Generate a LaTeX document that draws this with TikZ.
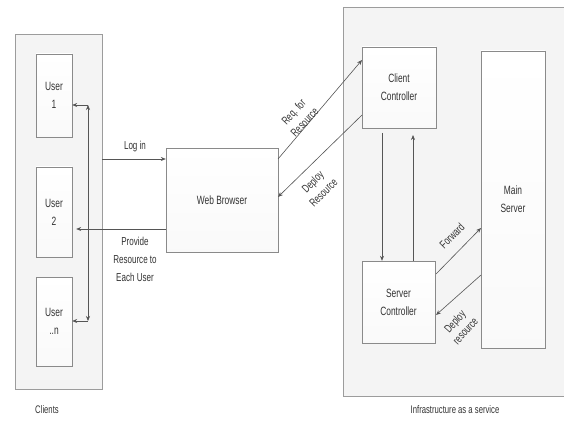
\documentclass[tikz,border=0pt]{standalone}
\usepackage{fontspec}
\setmainfont{Liberation Sans}[FakeStretch=0.7]
\usepackage{tikz}
\usetikzlibrary{arrows.meta,positioning,calc,shadows}
\tikzset{%
  boxnode/.style={rectangle,draw=iaborder,top color=white,bottom color=iafill!80!black!8,
    drop shadow={opacity=0.25,shadow xshift=1pt,shadow yshift=-1pt},
    align=center,text=iatext,inner sep=0pt},
  groupnode/.style={rectangle,draw=iagroup,fill=iabg,inner sep=0pt,
    drop shadow={opacity=0.2,shadow xshift=1pt,shadow yshift=-1pt}},
  arr/.style={draw=iaarrow,line width=0.6pt,-{Stealth[length=5pt,width=4pt]}},
  biarr/.style={draw=iaarrow,line width=0.6pt,{Stealth[length=5pt,width=4pt]}-{Stealth[length=5pt,width=4pt]}},
  lbl/.style={align=center,text=iatext,inner sep=0pt,font=\fontsize{11.5}{18}\selectfont}
}

\begin{document}
\begin{tikzpicture}[x=1pt,y=-1pt,font=\fontsize{12}{18}\selectfont]
% ---- colors ----
\definecolor{iaborder}{HTML}{8A8A8A}   % box border
\definecolor{iagroup}{HTML}{9C9C9C}    % group border
\definecolor{iabg}{HTML}{F4F4F4}       % group fill
\definecolor{iafill}{HTML}{E6E6E6}     % box fill
\definecolor{iaarrow}{HTML}{555555}    % connectors
\definecolor{iatext}{HTML}{333333}     % text

\useasboundingbox (0,0) rectangle (564,430);
\begin{scope}
\clip (0,0) rectangle (564,430);

% ===================== groups =====================
\node[groupnode,minimum width=87pt,minimum height=355pt] (clients) at (58.5,211.5) {};
\node[groupnode,minimum width=230pt,minimum height=389pt] (iaas) at (458,201.5) {};

% ===================== clients =====================
\node[boxnode,minimum width=36pt,minimum height=83pt] (u1) at (54,95.5)  {User\\1};
\node[boxnode,minimum width=36pt,minimum height=90pt] (u2) at (54,212)   {User\\2};
\node[boxnode,minimum width=36pt,minimum height=89pt] (un) at (54,321.5) {User\\..n};

% ===================== browser =====================
\node[boxnode,minimum width=112pt,minimum height=104pt] (web) at (222,200) {Web Browser};

% ===================== infrastructure =====================
\node[boxnode,minimum width=74pt,minimum height=81pt]  (cc) at (399,87.5)  {Client\\Controller};
\node[boxnode,minimum width=64pt,minimum height=297pt] (ms) at (513,199.5) {Main\\Server};
\node[boxnode,minimum width=73pt,minimum height=82pt]  (sc) at (398.5,302) {Server\\Controller};

% ---- anchor points ----
\coordinate (busa)  at (88,105);
\coordinate (busb)  at (88,321);
\coordinate (login) at (0,159);
\coordinate (prov)  at (0,229);
\coordinate (reqa)  at (278,159);
\coordinate (reqb)  at (362,60);
\coordinate (depa)  at (362,115);
\coordinate (depb)  at (278,197);
\coordinate (dna)   at (382,133);
\coordinate (upa)   at (413,135);
\coordinate (fwda)  at (436,274);
\coordinate (fwdb)  at (481,228);
\coordinate (dra)   at (481,275);
\coordinate (drb)   at (436,315);

% ---- connectors ----
\draw[biarr] (busa) -- (busb);
\draw[arr] (busa) -- (u1.east |- busa);
\draw[arr] (busb) -- (un.east |- busb);
\draw[arr] (clients.east |- login) -- (web.west |- login);
\draw[arr,shorten >=4pt] (web.west |- prov) -- (u2.east |- prov);
\draw[arr] (reqa) -- (reqb);
\draw[arr] (depa) -- (depb);
\draw[arr] (dna) -- (sc.north -| dna);
\draw[arr] (sc.north -| upa) -- (upa);
\draw[arr] (fwda) -- (fwdb);
\draw[arr] (dra) -- (drb);

% ---- labels ----
\node[lbl] (loginlbl) at (135,147) {Log in};
\node[lbl] (provlbl)  at (135,259) {Provide\\Resource to\\Each User};
\node[lbl,rotate=47,font=\fontsize{11.5}{15}\selectfont] (reqlbl) at (299,117) {Req. for\\Resource};
\node[lbl,rotate=45,font=\fontsize{11.5}{15}\selectfont] (deplbl) at (318,187) {Deploy\\Resource};
\node[lbl,rotate=45] (fwdlbl) at (452,236) {Forward};
\node[lbl,rotate=48,font=\fontsize{11.5}{14}\selectfont] (drlbl) at (460,326) {Deploy\\resource};
\node[lbl,font=\fontsize{11}{13}\selectfont] (clientslbl) at (47,410)  {Clients};
\node[lbl,font=\fontsize{11}{13}\selectfont] (iaaslbl)    at (455,410) {Infrastructure as a service};
\end{scope}
\end{tikzpicture}
\end{document}
